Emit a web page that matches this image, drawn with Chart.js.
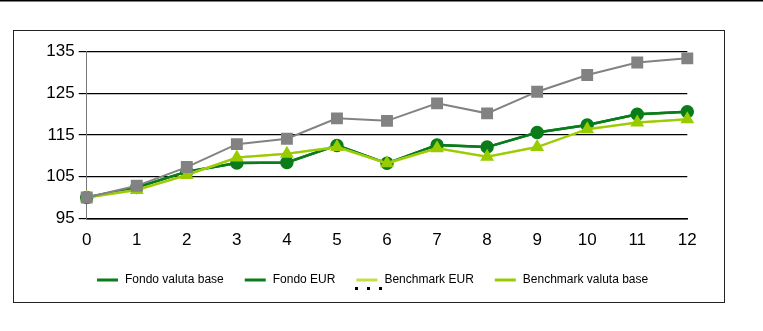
<!DOCTYPE html>
<html>
<head>
<meta charset="utf-8">
<script src="https://cdn.jsdelivr.net/npm/chart.js@4"></script>
<style>
  html, body { margin: 0; padding: 0; background: #fff; }
  #wrap { position: relative; width: 763px; height: 331px; }
  canvas { display: block; }
</style>
</head>
<body>
<div id="wrap"><canvas id="chart" width="763" height="331"></canvas></div>
<script>
// periods on the x axis
const periods = ['0', '1', '2', '3', '4', '5', '6', '7', '8', '9', '10', '11', '12'];
const yTicks = [95, 105, 115, 125, 135];

// series
const fondoValutaBase = [100, 102.4, 106.2, 108.3, 108.4, 112.5, 108.2, 112.6, 112.1, 115.6, 117.4, 120.0, 120.6];
const fondoEur        = [100, 102.4, 106.2, 108.3, 108.4, 112.5, 108.2, 112.6, 112.1, 115.6, 117.4, 120.0, 120.6];
const benchmarkEur    = [100, 101.8, 105.4, 109.6, 110.5, 112.1, 108.2, 111.8, 109.8, 112.1, 116.4, 118.0, 118.8];
const benchmarkValutaBase = [100, 101.8, 105.4, 109.6, 110.5, 112.1, 108.2, 111.8, 109.8, 112.1, 116.4, 118.0, 118.8];
const indice          = [100, 102.8, 107.3, 112.8, 114.1, 119.0, 118.4, 122.6, 120.2, 125.4, 129.4, 132.4, 133.4];

const legendNames = ['Fondo valuta base', 'Fondo EUR', 'Benchmark EUR', 'Benchmark valuta base'];

const FONT = '"Liberation Sans", Arial, sans-serif';

// frame around the chart + rule at the top of the page
const framePlugin = {
  id: 'frame',
  beforeDraw(chart) {
    const ctx = chart.ctx;
    ctx.save();
    ctx.fillStyle = '#fff';
    ctx.fillRect(0, 0, chart.width, chart.height);
    ctx.strokeStyle = '#000';
    ctx.lineWidth = 1.5;
    ctx.beginPath();
    ctx.moveTo(0, 0.75); ctx.lineTo(chart.width, 0.75);
    ctx.stroke();
    ctx.strokeStyle = '#222';
    ctx.lineWidth = 1;
    ctx.strokeRect(13.5, 30.5, 711, 272);
    ctx.restore();
  }
};

// legend row under the axis, with a "more" marker
const legendPlugin = {
  id: 'rowLegend',
  afterDraw(chart) {
    const ctx = chart.ctx;
    ctx.save();
    ctx.font = '12px ' + FONT;
    ctx.textBaseline = 'middle';
    let x = 97;
    const y = 280;
    legendNames.forEach(name => {
      const ds = chart.data.datasets.find(d => d.label === name);
      ctx.strokeStyle = ds.borderColor;
      ctx.lineWidth = 3;
      ctx.beginPath();
      ctx.moveTo(x, y); ctx.lineTo(x + 21, y);
      ctx.stroke();
      ctx.fillStyle = '#000';
      ctx.fillText(name, x + 28, y);
      x += 28 + ctx.measureText(name).width + 21;
    });
    ctx.fillStyle = '#000';
    [355, 367, 379].forEach(dx => ctx.fillRect(dx, 287, 3, 3));
    ctx.restore();
  }
};

const line = (label, data, color, style, radius, width) => ({
  label, data,
  borderColor: color,
  backgroundColor: color,
  pointBackgroundColor: color,
  pointBorderColor: color,
  pointStyle: style,
  pointRadius: radius,
  pointHoverRadius: radius,
  borderWidth: width,
  tension: 0
});

// listed top-first; Chart.js paints the first dataset last
new Chart(document.getElementById('chart'), {
  type: 'line',
  data: {
    labels: periods,
    datasets: [
      line('Indice', indice, '#828282', 'rect', 7, 2),
      line(legendNames[3], benchmarkValutaBase, '#99cc00', 'triangle', 6, 2),
      line(legendNames[2], benchmarkEur, '#c9dc4a', false, 0, 2.5),
      line(legendNames[0], fondoValutaBase, '#0a7d1a', 'circle', 5.5, 2.5),
      line(legendNames[1], fondoEur, '#0a7d1a', false, 0, 2.5)
    ]
  },
  options: {
    responsive: false,
    animation: false,
    layout: { padding: { left: 40.7, right: 75.7, top: 51.7, bottom: 0 } },
    plugins: { legend: { display: false }, tooltip: { enabled: false } },
    scales: {
      x: {
        offset: false,
        grid: { display: false, drawOnChartArea: false, tickLength: 0 },
        border: { display: true, color: '#000', width: 1.5 },
        ticks: { color: '#000', font: { family: FONT, size: 17 }, padding: 12, maxRotation: 0, autoSkip: false },
        afterFit(scale) { scale.height = 331 - 218.3; }
      },
      y: {
        min: 95, max: 135,
        afterBuildTicks(scale) { scale.ticks = yTicks.map(v => ({ value: v })); },
        grid: { color: '#000', lineWidth: 1.2, tickLength: 8, drawTicks: true },
        border: { display: true, color: '#777', width: 1 },
        ticks: { color: '#000', font: { family: FONT, size: 17 }, padding: 4 },
        afterFit(scale) { scale.width = 46; }
      }
    }
  },
  plugins: [framePlugin, legendPlugin]
});
</script>
</body>
</html>
